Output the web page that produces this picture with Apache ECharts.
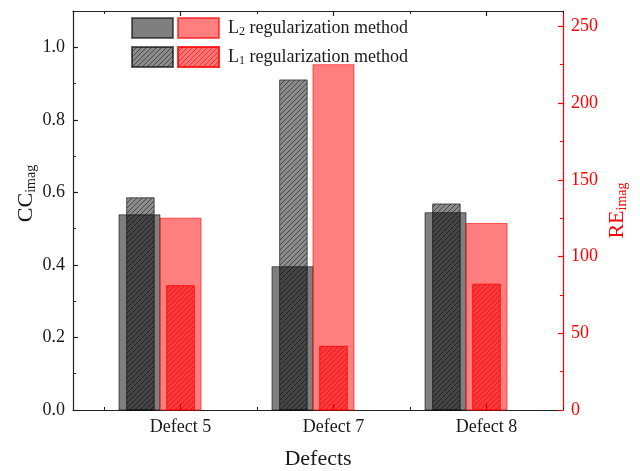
<!DOCTYPE html>
<html>
<head>
<meta charset="utf-8">
<script src="https://cdn.jsdelivr.net/npm/echarts@6/dist/echarts.min.js"></script>
<style>
  html, body { margin: 0; padding: 0; background: #fff; }
  #main { width: 640px; height: 471px; }
</style>
</head>
<body>
<div id="main"></div>
<script>
// data
var categories = ['Defect 5', 'Defect 7', 'Defect 8'];
var ccL2 = [0.538, 0.395, 0.544];
var ccL1 = [0.585, 0.910, 0.568];
var reL2 = [125, 225, 121.5];
var reL1 = [81, 41.5, 82];
var ccTicks = [0, 0.2, 0.4, 0.6, 0.8, 1.0];
var ccMinor = [0.1, 0.3, 0.5, 0.7, 0.9];
var reTicks = [0, 50, 100, 150, 200, 250];
var reMinor = [25, 75, 125, 175, 225];

var FONT = 'Liberation Serif';

function hatch(bg, line) {
	var s = 5;
	var c = document.createElement('canvas');
	c.width = s;
	c.height = s;
	var ctx = c.getContext('2d');
	ctx.fillStyle = bg;
	ctx.fillRect(0, 0, s, s);
	ctx.strokeStyle = line;
	ctx.lineWidth = 1;
	ctx.beginPath();
	ctx.moveTo(-1, s + 1); ctx.lineTo(s + 1, -1);
	ctx.moveTo(-1, 1); ctx.lineTo(1, -1);
	ctx.moveTo(s - 1, s + 1); ctx.lineTo(s + 1, s - 1);
	ctx.stroke();
	return { image: c, repeat: 'repeat' };
}

var styles = {
	ccL2: { fill: 'rgba(0,0,0,0.5)', stroke: 'rgba(0,0,0,0.55)', lineWidth: 1 },
	ccL1: { fill: hatch('rgba(0,0,0,0.45)', 'rgba(0,0,0,0.5)'), stroke: 'rgba(0,0,0,0.6)', lineWidth: 1 },
	reL2: { fill: 'rgba(255,0,0,0.5)', stroke: 'rgba(255,0,0,0.6)', lineWidth: 1 },
	reL1: { fill: hatch('rgba(255,0,0,0.55)', 'rgba(190,0,0,0.5)'), stroke: 'rgba(255,0,0,0.8)', lineWidth: 1 }
};

function barItem(widthRatio, offsetRatio, style) {
	return function (params, api) {
		var x = api.value(0);
		var v = api.value(1);
		var base = api.coord([x, 0]);
		var top = api.coord([x, v]);
		var band = api.size([1, 0])[0];
		var w = band * widthRatio;
		var cx = base[0] + band * offsetRatio;
		return {
			type: 'rect',
			shape: { x: cx - w / 2, y: top[1], width: w, height: base[1] - top[1] },
			style: style
		};
	};
}

function pairs(values) {
	return values.map(function (v, i) { return [i, v]; });
}

function makeSeries(name, values, yIndex, widthRatio, offsetRatio, style) {
	return {
		name: name,
		type: 'custom',
		xAxisIndex: 0,
		yAxisIndex: yIndex,
		renderItem: barItem(widthRatio, offsetRatio, style),
		itemStyle: { color: style.fill, borderColor: style.stroke, borderWidth: 1 },
		data: pairs(values)
	};
}

var chartDom = document.getElementById('main');
var myChart = echarts.init(chartDom, null, { renderer: 'canvas', devicePixelRatio: 1 });

var frameLine = { show: true, onZero: false, lineStyle: { color: '#222', width: 1.2 } };

var option = {
	animation: false,
	backgroundColor: '#fff',
	textStyle: { fontFamily: FONT },
	grid: [
		{ left: 73, top: 11, width: 490, height: 399, outerBoundsMode: 'none', containLabel: false },
		{ left: 104, top: 11, width: 459, height: 399, outerBoundsMode: 'none', containLabel: false }
	],
	legend: [
		{
			data: ['CC L2', 'CC L1'],
			orient: 'vertical',
			left: 131, top: 17,
			padding: 0,
			itemWidth: 41, itemHeight: 20, itemGap: 7,
			icon: 'rect',
			selectedMode: false,
			formatter: function () { return ''; }
		},
		{
			data: ['RE L2', 'RE L1'],
			orient: 'vertical',
			left: 177, top: 17,
			padding: 0,
			itemWidth: 41, itemHeight: 20, itemGap: 7,
			icon: 'rect',
			selectedMode: false,
			textStyle: {
				fontFamily: FONT, fontSize: 18, color: '#1a1a1a',
				padding: [0, 0, 0, 4],
				rich: {
					s: { fontFamily: FONT, fontSize: 12, color: '#1a1a1a', verticalAlign: 'bottom', padding: [8, 0, 0, 0] }
				}
			},
			formatter: function (name) {
				return name === 'RE L2' ? 'L{s|2} regularization method' : 'L{s|1} regularization method';
			}
		}
	],
	xAxis: [
		{
			type: 'category', gridIndex: 1, position: 'bottom',
			data: categories,
			axisLine: { show: false }, axisTick: { show: false },
			axisLabel: { fontFamily: FONT, fontSize: 18, color: '#1a1a1a', margin: 8 }
		},
		{
			type: 'value', gridIndex: 1, position: 'bottom', min: 0, max: 3, interval: 1,
			axisLine: { show: false, onZero: false }, axisLabel: { show: false }, splitLine: { show: false },
			axisTick: { show: true, inside: true, length: 3, lineStyle: { color: '#222' } },
			minorTick: { show: true, splitNumber: 2, length: 6, lineStyle: { color: '#222', width: 1.2 } }
		},
		{
			type: 'value', gridIndex: 1, position: 'top', min: 0, max: 3, interval: 1,
			axisLine: { show: false, onZero: false }, axisLabel: { show: false }, splitLine: { show: false },
			axisTick: { show: true, inside: true, length: 3, lineStyle: { color: '#222' } },
			minorTick: { show: true, splitNumber: 2, length: 5, lineStyle: { color: '#222', width: 1.2 } }
		},
		{
			type: 'value', gridIndex: 0, position: 'bottom', min: 0, max: 1,
			axisLine: frameLine, axisTick: { show: false }, axisLabel: { show: false }, splitLine: { show: false },
			name: 'Defects', nameLocation: 'middle', nameGap: 38, nameMoveOverlap: false,
			nameTextStyle: { fontFamily: FONT, fontSize: 22, color: '#1a1a1a' }
		},
		{
			type: 'value', gridIndex: 0, position: 'top', min: 0, max: 1,
			axisLine: frameLine, axisTick: { show: false }, axisLabel: { show: false }, splitLine: { show: false }
		}
	],
	yAxis: [
		{
			type: 'value', gridIndex: 0, position: 'left', min: 0, max: 1.1,
			axisLine: frameLine, splitLine: { show: false },
			axisTick: { show: true, inside: true, length: 5, customValues: ccTicks, lineStyle: { color: '#222', width: 1.2 } },
			axisLabel: {
				customValues: ccTicks, fontFamily: FONT, fontSize: 18, color: '#1a1a1a', margin: 8,
				formatter: function (v) { return v.toFixed(1); }
			},
			name: 'CC{s|imag}', nameLocation: 'middle', nameRotate: 90, nameGap: 35, nameMoveOverlap: false,
			nameTextStyle: {
				fontFamily: FONT, fontSize: 22, color: '#1a1a1a', padding: [0, 0, 0, 34],
				rich: { s: { fontFamily: FONT, fontSize: 14, color: '#1a1a1a', verticalAlign: 'bottom', padding: [10, 0, 0, 0] } }
			}
		},
		{
			type: 'value', gridIndex: 0, position: 'left', min: 0, max: 1.1,
			axisLine: { show: false, onZero: false }, splitLine: { show: false }, axisLabel: { show: false },
			axisTick: { show: true, inside: true, length: 3, customValues: ccMinor, lineStyle: { color: '#222' } }
		},
		{
			type: 'value', gridIndex: 0, position: 'right', min: 0, max: 260,
			axisLine: { show: true, onZero: false, lineStyle: { color: '#ff0000', width: 1.2 } },
			splitLine: { show: false },
			axisTick: { show: true, inside: true, length: 5, customValues: reTicks, lineStyle: { color: '#ff0000', width: 1.2 } },
			axisLabel: { customValues: reTicks, fontFamily: FONT, fontSize: 18, color: '#ff0000', margin: 8 },
			name: 'RE{s|imag}', nameLocation: 'middle', nameRotate: 90, nameGap: 42, nameMoveOverlap: false,
			nameTextStyle: {
				fontFamily: FONT, fontSize: 22, color: '#ff0000',
				rich: { s: { fontFamily: FONT, fontSize: 14, color: '#ff0000', verticalAlign: 'bottom', padding: [10, 0, 0, 0] } }
			}
		},
		{
			type: 'value', gridIndex: 0, position: 'right', min: 0, max: 260,
			axisLine: { show: false, onZero: false }, splitLine: { show: false }, axisLabel: { show: false },
			axisTick: { show: true, inside: true, length: 3, customValues: reMinor, lineStyle: { color: '#ff0000' } }
		},
		{
			type: 'value', gridIndex: 1, position: 'left', min: 0, max: 1.1, show: false
		},
		{
			type: 'value', gridIndex: 1, position: 'right', min: 0, max: 260, show: false
		}
	],
	series: [
		makeSeries('CC L2', ccL2, 4, 0.268, -0.268, styles.ccL2),
		makeSeries('CC L1', ccL1, 4, 0.18, -0.262, styles.ccL1),
		makeSeries('RE L2', reL2, 5, 0.268, 0, styles.reL2),
		makeSeries('RE L1', reL1, 5, 0.18, 0, styles.reL1)
	]
};

option && myChart.setOption(option);
</script>
</body>
</html>
